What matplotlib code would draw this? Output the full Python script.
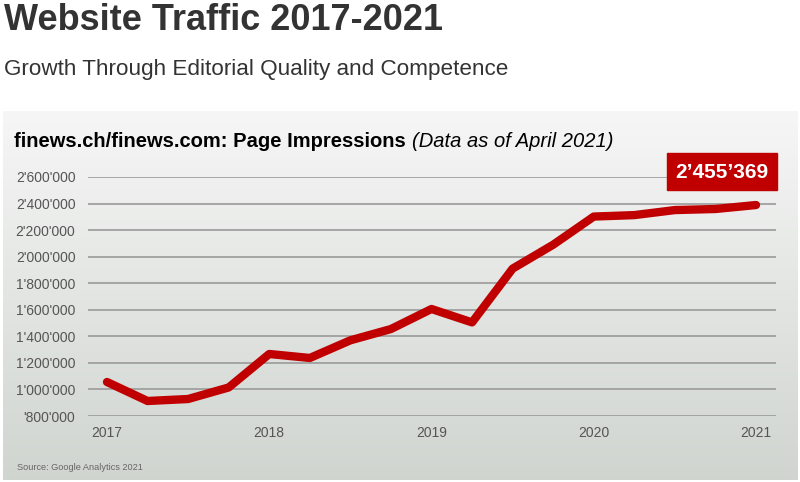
import numpy as np
import matplotlib.pyplot as plt

# quarterly page impressions
quarters = [2017.0, 2017.25, 2017.5, 2017.75,
            2018.0, 2018.25, 2018.5, 2018.75,
            2019.0, 2019.25, 2019.5, 2019.75,
            2020.0, 2020.25, 2020.5, 2020.75,
            2021.0]
impressions = [1056000, 913000, 928000, 1015000,
               1267000, 1237000, 1370000, 1455000,
               1606000, 1505000, 1910000, 2090000,
               2302000, 2313000, 2351000, 2359000,
               2389000]

years = [2017, 2018, 2019, 2020, 2021]
yticks = [800000, 1000000, 1200000, 1400000, 1600000, 1800000,
          2000000, 2200000, 2400000, 2600000]
ytick_labels = ["'800'000", "1'000'000", "1'200'000", "1'400'000", "1'600'000",
                "1'800'000", "2'000'000", "2'200'000", "2'400'000", "2'600'000"]
latest_label = "2\u2019455\u2019369"

RED = '#c00000'
W, H = 800, 482

plt.rcParams['font.family'] = ['Liberation Sans', 'DejaVu Sans']

fig = plt.figure(figsize=(W / 100, H / 100), dpi=100)
fig.patch.set_facecolor('white')


def box(x0, y0, x1, y1):
    # pixel box (top-left origin) -> figure fraction rect
    return [x0 / W, 1 - y1 / H, (x1 - x0) / W, (y1 - y0) / H]


# gradient panel
bg = fig.add_axes(box(3, 111, 797, 480))
grad = np.linspace(0, 1, 256).reshape(-1, 1)
top = np.array([0.965, 0.965, 0.965])
bottom = np.array([0.815, 0.835, 0.815])
img = top + (bottom - top) * grad[..., None]
bg.imshow(img, aspect='auto', extent=[0, 1, 0, 1])
bg.set_axis_off()

# main plot
ax = fig.add_axes(box(88, 177, 776, 416))
ax.patch.set_alpha(0)
ax.set_xlim(2017 - 19 / 162.25, 2021 + 20 / 162.25)
ax.set_ylim(800000, 2600000)
for v in yticks:
    ax.axhline(v, color='#9a9a9a', lw=1.2, zorder=1)
ax.plot(quarters, impressions, color=RED, lw=6, solid_capstyle='round',
        solid_joinstyle='round', zorder=3, clip_on=False)

ax.set_xticks(years)
ax.set_xticklabels([str(y) for y in years])
ax.set_yticks(yticks)
ax.set_yticklabels(ytick_labels)
ax.tick_params(axis='x', length=0, pad=7, labelsize=10, labelcolor='#555555')
ax.tick_params(axis='y', length=0, pad=9, labelsize=10, labelcolor='#555555')
for s in ax.spines.values():
    s.set_visible(False)

# headers
fig.text(4 / W, 1 - 30 / H, 'Website Traffic 2017-2021', fontsize=26,
         fontweight='bold', color='#333333', va='baseline')
fig.text(4 / W, 1 - 75 / H, 'Growth Through Editorial Quality and Competence',
         fontsize=16.2, color='#333333', va='baseline')

t1 = fig.text(14 / W, 1 - 147 / H, 'finews.ch/finews.com: Page Impressions',
              fontsize=14.5, fontweight='bold', color='black', va='baseline')
fig.canvas.draw()
ext = t1.get_window_extent()
fig.text(ext.x1 / W + 6 / W, 1 - 147 / H, '(Data as of April 2021)',
         fontsize=14.5, fontstyle='italic', color='black', va='baseline')

# latest value box
fig.patches.append(plt.Rectangle((667 / W, 1 - 190 / H), 110 / W, 37 / H,
                                 transform=fig.transFigure, color=RED,
                                 zorder=5))
fig.text(722 / W, 1 - 172 / H, latest_label, fontsize=15, fontweight='bold',
         color='white', ha='center', va='center', zorder=6)

fig.text(17 / W, 1 - 467 / H, 'Source: Google Analytics 2021', fontsize=6.6,
         color='#666666', va='center')

fig.savefig('out.png', dpi=100)
